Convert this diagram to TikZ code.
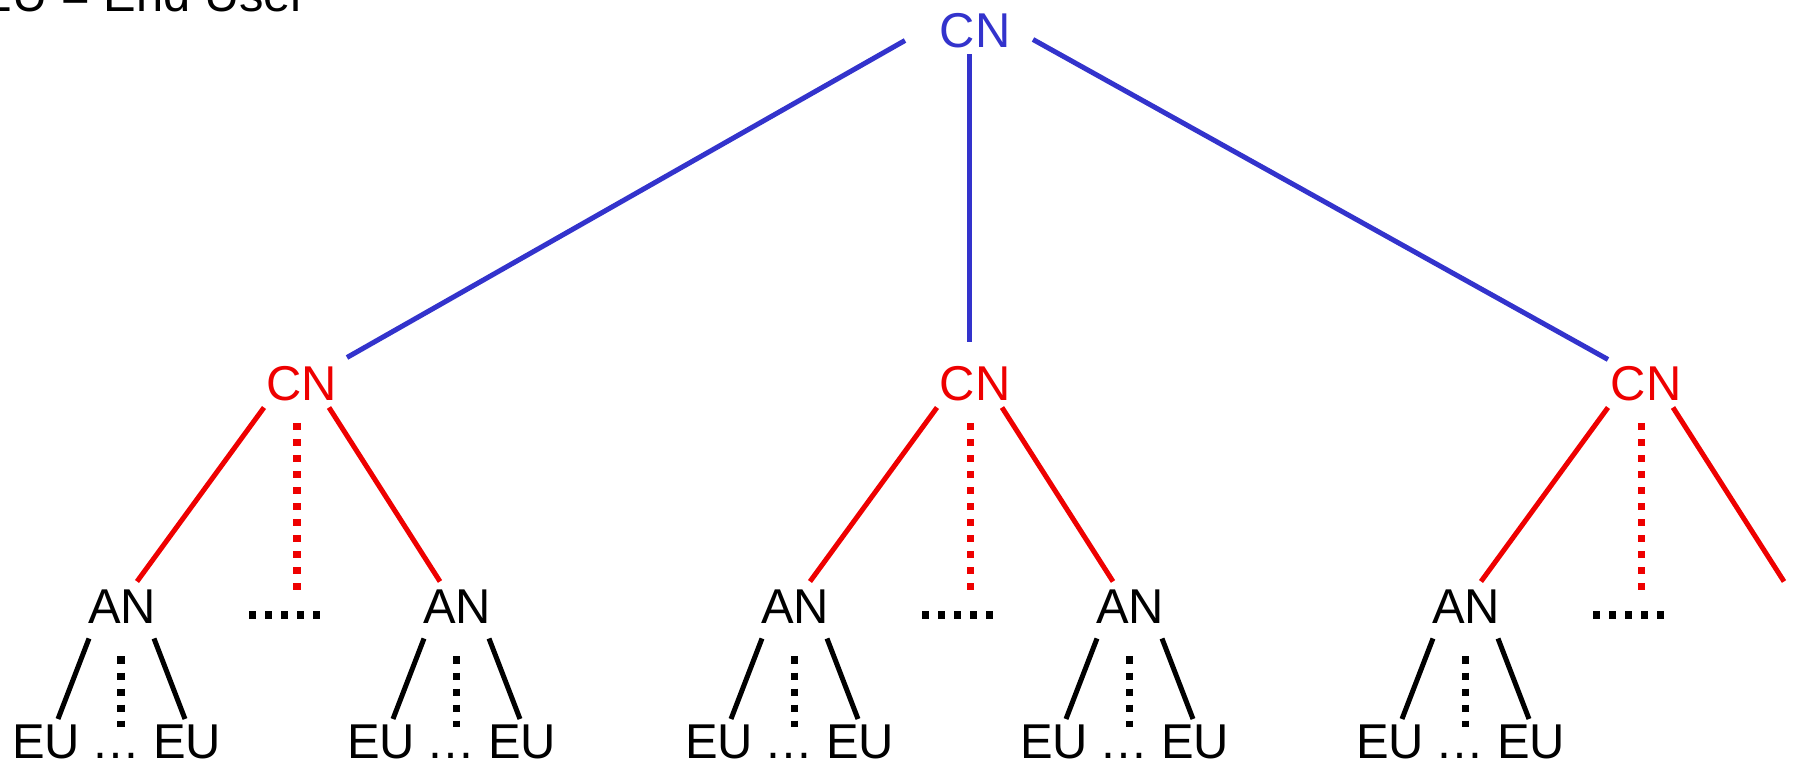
\documentclass[tikz,border=0pt]{standalone}
\usepackage{fontspec}
\setmainfont{Liberation Sans}

\definecolor{cnblue}{RGB}{51,51,204}
\definecolor{cnred}{RGB}{238,0,0}

\tikzset{
  lbl/.style={inner sep=0pt, text height=0.35cm, text depth=0pt,
    font=\fontsize{13.9}{16}\selectfont},
  edgeline/.style={line width=0.05cm},
  dotline/.style={line width=0.07cm, dash pattern=on 0.07cm off 0.09cm},
}

\begin{document}
\begin{tikzpicture}[x=0.01cm, y=-0.01cm]
  \useasboundingbox (0,0) rectangle (1796,761);

  \node[lbl, anchor=base east] (legend) at (308,11.5) {EU = End User};
  \node[lbl, text=cnblue] (top) at (975,29.5) {CN};

  % access nodes with their end users
  \foreach \j/\x in {1/122, 2/457, 3/795, 4/1130, 5/1466} {
    \node[lbl] (an\j) at (\x,605.5) {AN};
    \node[lbl] (eul\j) at (\x-76,740.5) {EU};
    \node[lbl] (eur\j) at (\x+65,740.5) {EU};
    \node[lbl] (etc\j) at (\x-6,740.5) {…};
    \draw[edgeline] ([shift={(-33,33)}]an\j.center) -- ([shift={(12,-21.5)}]eul\j.center);
    \draw[edgeline] ([shift={(32,33)}]an\j.center) -- ([shift={(-2,-21.5)}]eur\j.center);
    \draw[dotline] ([shift={(-1,51)}]an\j.center) -- ([shift={(5,-13)}]etc\j.center);
  }
  \coordinate (an6) at (1801,605.5);

  % second level CNs
  \foreach \i/\x/\anl/\anr in {1/302/an1/an2, 2/975/an3/an4, 3/1646/an5/an6} {
    \node[lbl, text=cnred] (cn\i) at (\x,382.5) {CN};
    \coordinate (gap\i) at (\x-17,615);
    \draw[dotline] (gap\i) ++(-36,0) -- ++(72,0);
    \draw[edgeline, cnred] ([shift={(-38,25)}]cn\i.center) -- ([shift={(15,-24)}]\anl.center);
    \draw[edgeline, cnred] ([shift={(27,25)}]cn\i.center) -- ([shift={(-17,-24)}]\anr.center);
    \draw[dotline, cnred] ([shift={(-5,40.5)}]cn\i.center) -- ([shift={(12,-25)}]gap\i);
  }

  \draw[edgeline, cnblue] ([shift={(-70,11)}]top.center) -- ([shift={(45,-25)}]cn1.center);
  \draw[edgeline, cnblue] ([shift={(-6,25)}]top.center) -- ([shift={(-6,-40)}]cn2.center);
  \draw[edgeline, cnblue] ([shift={(58,10)}]top.center) -- ([shift={(-38,-23)}]cn3.center);
\end{tikzpicture}
\end{document}
